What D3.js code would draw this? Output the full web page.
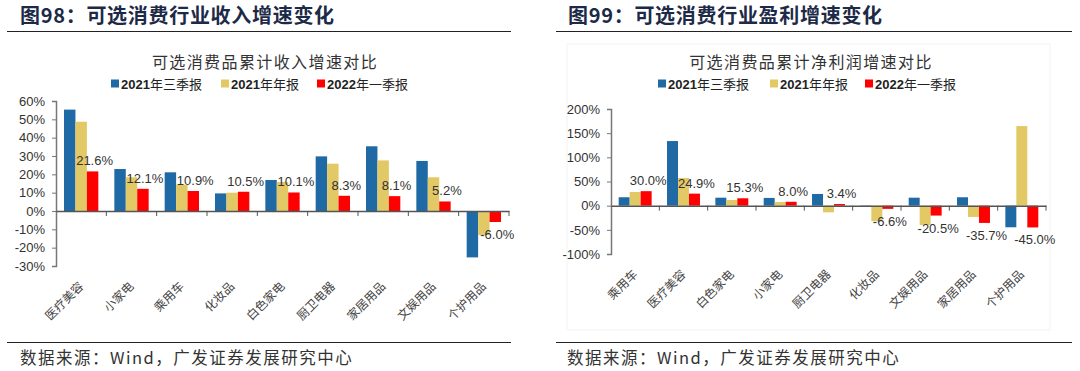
<!DOCTYPE html>
<html>
<head>
<meta charset="utf-8">
<script src="https://cdn.jsdelivr.net/npm/d3@7"></script>
<style>
  body { margin: 0; background: #fff; }
  svg { display: block; }
</style>
</head>
<body>
<svg id="chart" width="1080" height="371"></svg>
<script>
// series names + colours
let seriesNames = ['2021年三季报', '2021年年报', '2022年一季报']
let seriesColors = ['#1f6aa5', '#e3c866', '#ff0000']

// left panel: revenue growth (%)
let revCats = ['医疗美容', '小家电', '乘用车', '化妆品', '白色家电', '厨卫电器', '家居用品', '文娱用品', '个护用品']
let revQ3 = [55.3, 22.9, 21.1, 9.6, 16.9, 29.8, 35.3, 27.3, -25.3]
let revFY = [48.7, 18.4, 14.4, 10.0, 15.8, 25.8, 27.6, 18.4, -13.1]
let revQ1 = [21.6, 12.1, 10.9, 10.5, 10.1, 8.3, 8.1, 5.2, -6.0]
let revTicks = [60, 50, 40, 30, 20, 10, 0, -10, -20, -30]

// right panel: net profit growth (%)
let profCats = ['乘用车', '医疗美容', '白色家电', '小家电', '厨卫电器', '化妆品', '文娱用品', '家居用品', '个护用品']
let profQ3 = [17.4, 133.7, 16.5, 16.0, 24.2, -2.7, 16.5, 17.4, -44.7]
let profFY = [28.3, 57.2, 11.8, 7.5, -13.8, -32.3, -40.0, -23.3, 164.7]
let profQ1 = [30.0, 24.9, 15.3, 8.0, 3.4, -6.6, -20.5, -35.7, -45.0]
let profTicks = [200, 150, 100, 50, 0, -50, -100]

let svg = d3.select('#chart')
let cjk = '"Noto Sans CJK SC", sans-serif'
let latin = '"Liberation Sans", Arial, sans-serif'

function drawPanel(opt) {
  let g = svg.append('g')

  // header
  g.append('text')
    .attr('x', opt.headX)
    .attr('y', 23)
    .attr('font-family', cjk)
    .attr('font-size', 20)
    .attr('font-weight', 'bold')
    .attr('letter-spacing', 0.7)
    .attr('fill', '#1d2a47')
    .text(opt.head)

  g.append('line')
    .attr('x1', opt.ruleX[0]).attr('x2', opt.ruleX[1])
    .attr('y1', 31.5).attr('y2', 31.5)
    .attr('stroke', '#222').attr('stroke-width', 1.2)

  g.append('line')
    .attr('x1', opt.ruleX[0]).attr('x2', opt.ruleX[1])
    .attr('y1', 342.5).attr('y2', 342.5)
    .attr('stroke', '#222').attr('stroke-width', 1.2)

  g.append('text')
    .attr('x', opt.srcX)
    .attr('y', 364)
    .attr('font-family', cjk)
    .attr('font-size', 16.5)
    .attr('letter-spacing', 1.5)
    .attr('fill', '#333')
    .text('数据来源：Wind，广发证券发展研究中心')

  if (opt.frame) {
    g.append('rect')
      .attr('x', opt.frame[0]).attr('y', opt.frame[1])
      .attr('width', opt.frame[2]).attr('height', opt.frame[3])
      .attr('fill', 'none').attr('stroke', '#f3f3f3')
  }

  // chart title
  g.append('text')
    .attr('x', opt.titleX)
    .attr('y', 68)
    .attr('text-anchor', 'middle')
    .attr('font-family', cjk)
    .attr('font-size', 16)
    .attr('letter-spacing', 1.4)
    .attr('fill', '#333')
    .text(opt.title)

  // legend
  let leg = g.selectAll('.leg')
    .data(seriesNames)
    .enter()
    .append('g')
    .attr('transform', (d, i) => `translate(${opt.legX[i]},84)`)
  leg.append('rect')
    .attr('x', 0).attr('y', -4.5)
    .attr('width', 8).attr('height', 8)
    .attr('fill', (d, i) => seriesColors[i])
  let lt = leg.append('text')
    .attr('x', 10).attr('y', 5)
    .attr('font-size', 13)
    .attr('fill', '#222')
  lt.append('tspan')
    .attr('font-family', latin)
    .attr('font-weight', 'bold')
    .text(d => d.slice(0, 4))
  lt.append('tspan')
    .attr('font-family', cjk)
    .text(d => d.slice(4))

  // scales
  let x = d3.scaleBand().domain(opt.cats).range(opt.xRange)
  let xs = d3.scaleBand().domain([0, 1, 2]).range([0, x.bandwidth()]).paddingOuter(0.7)
  let y = d3.scaleLinear().domain(opt.yDomain).range(opt.yRange)

  let rows = opt.cats.map((c, i) => ({ cat: c, vals: opt.series.map(s => s[i]) }))

  // bars
  let grp = g.selectAll('.grp')
    .data(rows)
    .enter()
    .append('g')
    .attr('transform', d => `translate(${x(d.cat)},0)`)

  grp.selectAll('rect')
    .data(d => d.vals)
    .enter()
    .append('rect')
    .attr('x', (d, i) => xs(i))
    .attr('width', xs.bandwidth())
    .attr('y', d => y(Math.max(0, d)))
    .attr('height', d => Math.abs(y(d) - y(0)))
    .attr('fill', (d, i) => seriesColors[i])

  // labels for 2022 Q1
  grp.append('text')
    .attr('x', xs(2) + xs.bandwidth() / 2 + 2)
    .attr('y', d => d.vals[2] >= 0 ? y(d.vals[2]) - 6 : y(d.vals[2]) + 17)
    .attr('text-anchor', 'middle')
    .attr('font-family', latin)
    .attr('font-size', 13)
    .attr('fill', '#333')
    .text(d => d.vals[2].toFixed(1) + '%')

  // y axis
  let yAxis = d3.axisLeft(y)
    .tickValues(opt.ticks)
    .tickSize(4)
    .tickPadding(7)
    .tickFormat(d => d + '%')
  let ya = g.append('g')
    .attr('transform', `translate(${opt.xRange[0]},0)`)
    .call(yAxis)
  ya.select('.domain').attr('stroke', '#777').attr('stroke-width', 1.5)
  ya.selectAll('.tick line').attr('stroke', '#777')
  ya.selectAll('.tick text')
    .attr('font-family', latin)
    .attr('font-size', 13)
    .attr('fill', '#333')

  // zero line + category ticks
  let xAxis = d3.axisBottom(x).tickSize(0).tickFormat('')
  let xa = g.append('g')
    .attr('transform', `translate(0,${y(0)})`)
    .call(xAxis)
  xa.select('.domain').attr('stroke', '#555').attr('stroke-width', 1.5)
  xa.selectAll('.sep')
    .data(opt.cats)
    .enter()
    .append('line')
    .attr('x1', d => x(d) + x.bandwidth())
    .attr('x2', d => x(d) + x.bandwidth())
    .attr('y1', 0).attr('y2', 5)
    .attr('stroke', '#555')

  // rotated category labels
  g.selectAll('.cat')
    .data(opt.cats)
    .enter()
    .append('text')
    .attr('transform', d => `translate(${x(d) + x.bandwidth() / 2 + 3},${opt.yRange[0] + 21}) rotate(-45)`)
    .attr('text-anchor', 'end')
    .attr('font-family', cjk)
    .attr('font-size', 12)
    .attr('fill', '#444')
    .text(d => d)
}

drawPanel({
  head: '图98：可选消费行业收入增速变化',
  headX: 20,
  ruleX: [7, 511],
  srcX: 20,
  title: '可选消费品累计收入增速对比',
  titleX: 265,
  legX: [111, 221, 317],
  cats: revCats,
  series: [revQ3, revFY, revQ1],
  ticks: revTicks,
  xRange: [56, 509],
  yDomain: [-30, 60],
  yRange: [266, 101]
})

drawPanel({
  head: '图99：可选消费行业盈利增速变化',
  headX: 568,
  ruleX: [556, 1072],
  srcX: 567,
  frame: [567, 44, 483, 286],
  title: '可选消费品累计净利润增速对比',
  titleX: 811,
  legX: [658, 770, 865],
  cats: profCats,
  series: [profQ3, profFY, profQ1],
  ticks: profTicks,
  xRange: [611, 1046],
  yDomain: [-100, 200],
  yRange: [254, 109]
})
</script>
</body>
</html>
